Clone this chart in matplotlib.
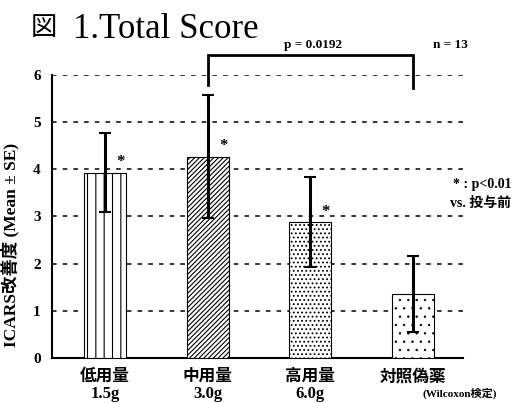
import matplotlib
matplotlib.use("Agg")
import matplotlib.pyplot as plt

plt.rcParams['font.family'] = ['Liberation Serif', 'Noto Sans CJK JP']

groups = ["低用量", "中用量", "高用量", "対照偽薬"]
doses = ["1.5g", "3.0g", "6.0g", ""]
means = [3.93, 4.27, 2.88, 1.36]
se = [0.84, 1.31, 0.95, 0.80]
hatches = ["||", "///////", "....", ".."]
hatch_widths = [0.8, 0.8, 0.8, 0.5]
significant = [True, True, True, False]

fig = plt.figure(figsize=(5.13, 4.03), dpi=100)
ax = fig.add_axes([0.101, 0.1117, 0.802, 0.7023])

x = list(range(len(groups)))
for xi, m, h, hw in zip(x, means, hatches, hatch_widths):
    with plt.rc_context({'hatch.linewidth': hw}):
        ax.bar(xi, m, width=0.41, color="white", edgecolor="black",
               linewidth=0.8, hatch=h, zorder=3)
ax.errorbar(x, means, yerr=se, fmt="none", ecolor="black", elinewidth=2.2,
            capsize=4, capthick=1.5, zorder=4)

for xi, m, sig in zip(x, means, significant):
    if sig:
        ax.text(xi + 0.15, m + 0.22, "*", ha="center", va="center",
                fontsize=12, fontweight="bold", zorder=5)

ax.set_xlim(-0.52, 3.49)
ax.set_ylim(0, 6)
ax.set_yticks(range(0, 7))
ax.set_yticklabels([str(v) for v in range(0, 7)], fontsize=11, fontweight="bold")
for v in range(1, 7):
    ax.axhline(v, color="black", linestyle=(0, (3, 4)), linewidth=1.1, zorder=1)

ax.set_xticks(x)
ax.set_xticklabels([g + ("\n" + d if d else "") for g, d in zip(groups, doses)],
                   fontsize=12, fontweight="bold", linespacing=1.1, va="top")
ax.tick_params(axis="x", length=0, pad=8)
ax.tick_params(axis="y", length=0, pad=8)

for s in ["top", "right"]:
    ax.spines[s].set_visible(False)
ax.spines["left"].set_linewidth(1.5)
ax.spines["bottom"].set_linewidth(1.5)

ax.set_ylabel("ICARS改善度 (Mean ± SE)", fontsize=12.5, fontweight="bold")
ax.yaxis.set_label_coords(-0.078, 0.40)

# comparison bracket between middle dose and placebo
bx = [1, 1, 3, 3]
by = [5.79, 6.42, 6.42, 5.72]
ax.plot(bx, by, color="black", linewidth=2.0, clip_on=False, zorder=6,
        solid_joinstyle="miter")
ax.text(2.03, 6.64, "p = 0.0192", ha="center", va="center", fontsize=9.5,
        fontweight="bold")
ax.text(3.37, 6.64, "n = 13", ha="center", va="center", fontsize=9.5,
        fontweight="bold")

fig.text(0.060, 0.928, "図", fontsize=19, ha="left", va="center")
fig.text(0.142, 0.928, "1.Total Score", fontsize=25, ha="left", va="center")

fig.text(0.997, 0.541, "* : p<0.01", fontsize=10, fontweight="bold",
         ha="right", va="center")
fig.text(0.997, 0.496, "vs. 投与前", fontsize=10, fontweight="bold",
         ha="right", va="center")
fig.text(0.897, 0.024, "(Wilcoxon検定)", fontsize=8, fontweight="bold",
         ha="center", va="center")

fig.savefig("out.png", dpi=100)
